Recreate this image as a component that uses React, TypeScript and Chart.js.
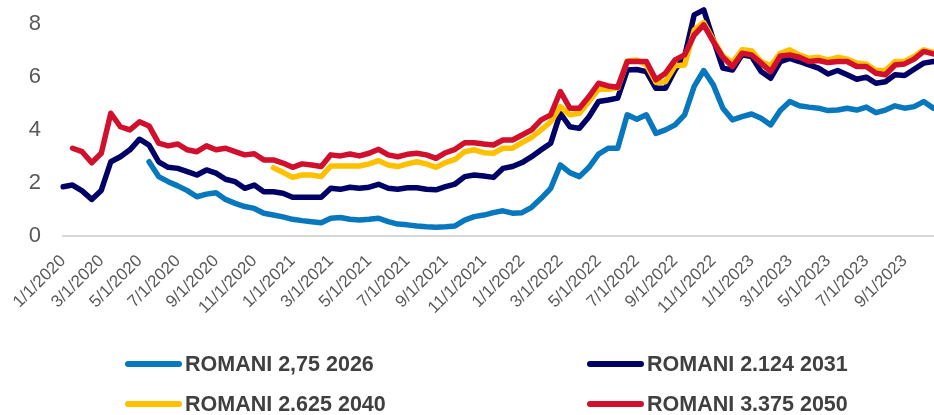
import React, { useEffect, useRef } from "react";
import { Chart, registerables } from "chart.js";

Chart.register(...registerables);

// Semi-monthly observation dates: 1st and 15th of each month, 1/1/2020 .. 10/15/2023
const dates: string[] = [];
for (let i = 0; i < 92; i++) {
  const m = Math.floor(i / 2);
  const year = 2020 + Math.floor(m / 12);
  const month = (m % 12) + 1;
  dates.push(`${month}/${i % 2 === 0 ? 1 : 15}/${year}`);
}

const yTicks = [0, 2, 4, 6, 8];

const seriesNames = [
  "ROMANI 2,75 2026",
  "ROMANI 2.124 2031",
  "ROMANI 2.625 2040",
  "ROMANI 3.375 2050",
];

const seriesColors = ["#0878BE", "#000066", "#FFC000", "#D0102C"];

const romani2026: (number | null)[] = [
  null, null, null, null, null, null, null, null, null,
  2.8, 2.24, 2.05, 1.89, 1.71, 1.48, 1.58, 1.63, 1.38, 1.23, 1.11,
  1.04, 0.86, 0.79, 0.72, 0.63, 0.58, 0.54, 0.5, 0.67, 0.7,
  0.63, 0.6, 0.63, 0.67, 0.54, 0.45, 0.42, 0.38, 0.35, 0.33,
  0.35, 0.38, 0.6, 0.73, 0.79, 0.88, 0.95, 0.86, 0.88, 1.08,
  1.42, 1.8, 2.68, 2.39, 2.24, 2.59, 3.09, 3.31, 3.31, 4.57,
  4.4, 4.57, 3.87, 4.0, 4.19, 4.57, 5.64, 6.24, 5.7, 4.82,
  4.38, 4.5, 4.6, 4.44, 4.19, 4.73, 5.07, 4.91, 4.86, 4.82,
  4.73, 4.75, 4.82, 4.75, 4.86, 4.65, 4.75, 4.91, 4.82, 4.88,
  5.07, 4.82,
];

const romani2031: (number | null)[] = [
  1.86, 1.92, 1.7, 1.38, 1.72, 2.8, 2.99, 3.25, 3.65, 3.43,
  2.8, 2.59, 2.55, 2.43, 2.3, 2.49, 2.37, 2.14, 2.05, 1.8,
  1.92, 1.67, 1.67, 1.61, 1.46, 1.46, 1.46, 1.46, 1.8, 1.76,
  1.84, 1.8, 1.84, 1.95, 1.8, 1.76, 1.82, 1.82, 1.76, 1.74,
  1.86, 1.96, 2.24, 2.3, 2.26, 2.21, 2.55, 2.62, 2.77, 2.99,
  3.25, 3.5, 4.63, 4.12, 4.06, 4.5, 5.07, 5.13, 5.2, 6.26,
  6.28, 6.2, 5.57, 5.57, 6.26, 6.77, 8.34, 8.53, 7.4, 6.33,
  6.26, 6.83, 6.77, 6.2, 5.95, 6.58, 6.7, 6.58, 6.45, 6.33,
  6.11, 6.24, 6.08, 5.91, 5.99, 5.76, 5.82, 6.08, 6.05, 6.29,
  6.52, 6.58,
];

const romani2040: (number | null)[] = [
  null, null, null, null, null, null, null, null, null, null,
  null, null, null, null, null, null, null, null, null, null,
  null, null,
  2.57, 2.4, 2.21, 2.3, 2.3, 2.24, 2.64, 2.64,
  2.64, 2.64, 2.72, 2.84, 2.68, 2.62, 2.72, 2.8, 2.72, 2.59,
  2.77, 2.89, 3.18, 3.25, 3.14, 3.12, 3.31, 3.31, 3.52, 3.72,
  4.0, 4.31, 4.88, 4.57, 4.63, 5.07, 5.53, 5.53, 5.58, 6.6,
  6.64, 6.45, 5.79, 5.82, 6.42, 6.45, 7.77, 8.05, 7.4, 6.79,
  6.54, 7.02, 6.99, 6.58, 6.42, 6.89, 7.02, 6.83, 6.7, 6.74,
  6.64, 6.74, 6.67, 6.52, 6.49, 6.24, 6.24, 6.58, 6.58, 6.77,
  7.02, 6.92,
];

const romani2050: (number | null)[] = [
  null, 3.31, 3.18, 2.76, 3.12, 4.63, 4.12, 4.0, 4.31, 4.15,
  3.5, 3.4, 3.47, 3.25, 3.18, 3.4, 3.25, 3.31, 3.18, 3.06,
  3.1, 2.87, 2.87, 2.75, 2.59, 2.72, 2.68, 2.62, 3.06, 3.02,
  3.09, 3.02, 3.12, 3.27, 3.06, 2.99, 3.08, 3.12, 3.06, 2.93,
  3.14, 3.27, 3.52, 3.52, 3.47, 3.43, 3.62, 3.62, 3.81, 4.0,
  4.38, 4.57, 5.45, 4.82, 4.82, 5.26, 5.76, 5.66, 5.61, 6.58,
  6.58, 6.58, 5.89, 6.14, 6.64, 6.83, 7.58, 7.96, 7.33, 6.74,
  6.39, 6.89, 6.83, 6.52, 6.2, 6.79, 6.83, 6.74, 6.58, 6.62,
  6.54, 6.58, 6.58, 6.39, 6.39, 6.14, 6.08, 6.45, 6.49, 6.67,
  6.96, 6.87,
];

const seriesValues = [romani2026, romani2031, romani2040, romani2050];
// drawing order: lower order is painted on top
const seriesOrder = [3, 2, 1, 0];

const W = 934;
const H = 415;
const X_AXIS_H = 110;
const PLOT_BOTTOM = 236;

const FONT = "'Liberation Sans', Arial, Helvetica, sans-serif";

export default function App() {
  const canvasRef = useRef<HTMLCanvasElement | null>(null);

  useEffect(() => {
    document.body.style.margin = "0";
    const canvas = canvasRef.current;
    if (!canvas) return;
    const chart = new Chart(canvas, {
      type: "line",
      data: {
        labels: dates,
        datasets: seriesNames.map((name, k) => ({
          label: name,
          data: seriesValues[k],
          borderColor: seriesColors[k],
          backgroundColor: seriesColors[k],
          borderWidth: 5.5,
          pointRadius: 0,
          pointHoverRadius: 0,
          tension: 0,
          borderJoinStyle: "round" as const,
          borderCapStyle: "round" as const,
          spanGaps: false,
          order: seriesOrder[k],
        })),
      },
      options: {
        responsive: false,
        animation: false,
        events: [],
        layout: {
          padding: { top: 0, left: 0, right: 0, bottom: H - PLOT_BOTTOM - X_AXIS_H },
        },
        plugins: {
          legend: { display: false },
          tooltip: { enabled: false },
        },
        scales: {
          x: {
            type: "category",
            offset: false,
            grid: { display: false, drawTicks: false },
            border: { display: true, color: "#D9D9D9", width: 2 },
            ticks: {
              autoSkip: false,
              minRotation: 45,
              maxRotation: 45,
              padding: 15,
              color: "#595959",
              font: { family: FONT, size: 17 },
            },
            afterBuildTicks: (s: any) => {
              s.ticks = s.ticks.filter((t: any) => t.value % 4 === 0);
            },
            afterFit: (s: any) => {
              s.height = X_AXIS_H;
            },
          },
          y: {
            type: "linear",
            min: 0,
            max: 8.9,
            grid: { display: false, drawTicks: false },
            border: { display: false },
            ticks: {
              padding: 22,
              color: "#595959",
              font: { family: FONT, size: 22 },
            },
            afterBuildTicks: (s: any) => {
              s.ticks = yTicks.map((v) => ({ value: v }));
            },
            afterFit: (s: any) => {
              s.width = 63;
              s.paddingTop = 0;
              s.paddingBottom = 0;
            },
          },
        },
      },
    });
    return () => chart.destroy();
  }, []);

  const legendPos = [
    { left: 125, top: 364 },
    { left: 587, top: 364 },
    { left: 125, top: 404 },
    { left: 587, top: 404 },
  ];

  return (
    <div style={{ position: "relative", width: W, height: H, overflow: "hidden", background: "#fff" }}>
      <canvas ref={canvasRef} width={W} height={H} style={{ position: "absolute", left: 0, top: 0 }} />
      {seriesNames.map((name, k) => (
        <div
          key={name}
          style={{
            position: "absolute",
            left: legendPos[k].left,
            top: legendPos[k].top - 14,
            height: 28,
            display: "flex",
            alignItems: "center",
            whiteSpace: "nowrap",
          }}
        >
          <span
            style={{
              display: "inline-block",
              width: 57,
              height: 6,
              borderRadius: 3,
              background: seriesColors[k],
              marginRight: 3,
            }}
          />
          <span
            style={{
              fontFamily: FONT,
              fontWeight: "bold",
              fontSize: 21.5,
              color: "#404040",
              lineHeight: "28px",
            }}
          >
            {name}
          </span>
        </div>
      ))}
    </div>
  );
}
